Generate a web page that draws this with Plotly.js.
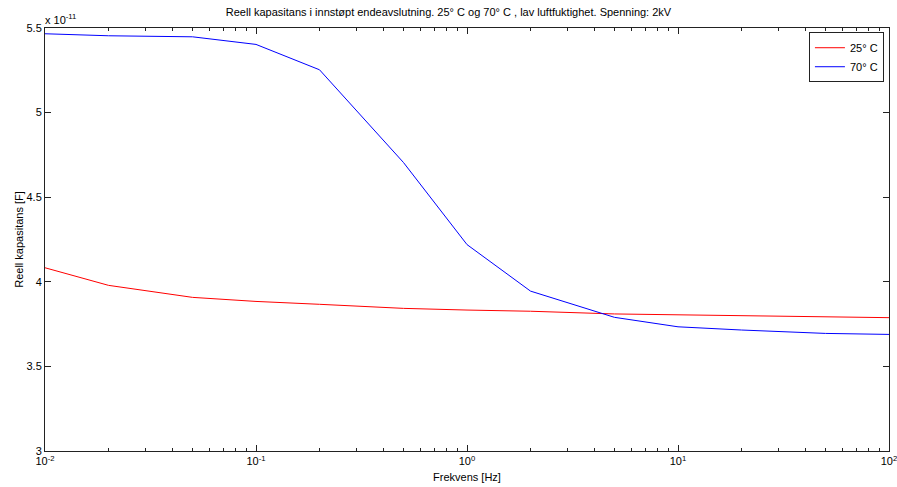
<!DOCTYPE html>
<html>
<head>
<meta charset="utf-8">
<script src="https://cdn.plot.ly/plotly-3.0.1.min.js"></script>
<style>html,body{margin:0;padding:0;background:#fff;}#chart{width:897px;height:487px;}</style>
</head>
<body>
<div id="chart"></div>
<script>
// Frequency [Hz]
var freq = [0.01, 0.02, 0.05, 0.1, 0.2, 0.5, 1, 2, 5, 10, 20, 50, 100];
// Real capacitance, in units of 1e-11 F
var cap25 = [4.083, 3.979, 3.908, 3.884, 3.867, 3.843, 3.833, 3.826, 3.810, 3.804, 3.798, 3.792, 3.788];
var cap70 = [5.466, 5.454, 5.448, 5.403, 5.253, 4.705, 4.220, 3.945, 3.790, 3.734, 3.715, 3.695, 3.689];
var seriesNames = ['25\u00b0 C', '70\u00b0 C'];
var xTickVals = [0.01, 0.1, 1, 10, 100];
var xTickText = ['10<sup>-2</sup>', '10<sup>-1</sup>', '10<sup>0</sup>', '10<sup>1</sup>', '10<sup>2</sup>'];
var yTickVals = [3, 3.5, 4, 4.5, 5, 5.5];
var yTickText = ['3', '3.5', '4', '4.5', '5', '5.5'];

var minorVals = [];
[0.01, 0.1, 1, 10].forEach(function (d) {
  for (var k = 2; k <= 9; k++) minorVals.push(+(d * k).toPrecision(3));
});

var font = 'Liberation Sans, Arial, sans-serif';
var traces = [
  {x: freq, y: cap25, name: seriesNames[0], type: 'scatter', mode: 'lines',
   line: {color: '#ff0000', width: 1}},
  {x: freq, y: cap70, name: seriesNames[1], type: 'scatter', mode: 'lines',
   line: {color: '#0000ff', width: 1}}
];

var layout = {
  width: 897, height: 487,
  margin: {l: 45, r: 8, t: 28, b: 36},
  paper_bgcolor: '#fff', plot_bgcolor: '#fff',
  font: {family: font, size: 11, color: '#000'},
  showlegend: true,
  title: {text: 'Reell kapasitans i innstøpt endeavslutning. 25\u00b0 C og 70\u00b0 C , lav luftfuktighet. Spenning: 2kV',
          font: {family: font, size: 11, color: '#000'}, x: 0.5, xanchor: 'center', y: 0.975, yanchor: 'middle'},
  xaxis: {
    type: 'log', range: [-2, 2], autorange: false,
    tickmode: 'array', tickvals: xTickVals, ticktext: xTickText,
    ticklabeloverflow: 'allow',
    ticks: 'inside', ticklen: 6, tickwidth: 1, tickcolor: '#222',
    minor: {tickmode: 'array', tickvals: minorVals, ticks: 'inside', ticklen: 3, tickcolor: '#222', showgrid: false},
    showline: true, linecolor: '#222', linewidth: 1, mirror: 'ticks',
    showgrid: false, zeroline: false,
    tickfont: {family: font, size: 11, color: '#000'},
    title: {text: 'Frekvens [Hz]', font: {family: font, size: 11, color: '#000'}, standoff: 7}
  },
  yaxis: {
    range: [3, 5.5], autorange: false,
    tickmode: 'array', tickvals: yTickVals, ticktext: yTickText,
    ticklabeloverflow: 'allow',
    ticks: 'inside', ticklen: 6, tickwidth: 1, tickcolor: '#222',
    showline: true, linecolor: '#222', linewidth: 1, mirror: 'ticks',
    showgrid: false, zeroline: false,
    tickfont: {family: font, size: 11, color: '#000'},
    title: {text: 'Reell kapasitans [F]', font: {family: font, size: 11, color: '#000'}, standoff: 0}
  },
  legend: {
    x: 0.994, xanchor: 'right', y: 0.99, yanchor: 'top',
    bgcolor: '#fff', bordercolor: '#222', borderwidth: 1,
    font: {family: font, size: 11, color: '#000'},
    itemwidth: 30, tracegroupgap: 0
  },
  annotations: [
    {xref: 'paper', yref: 'paper', x: 0, y: 1, xanchor: 'left', yanchor: 'bottom',
     text: 'x 10<sup>-11</sup>', showarrow: false, font: {family: font, size: 11, color: '#000'}, xshift: -2, yshift: 0}
  ]
};

Plotly.newPlot('chart', traces, layout, {displayModeBar: false, staticPlot: true});
</script>
</body>
</html>
